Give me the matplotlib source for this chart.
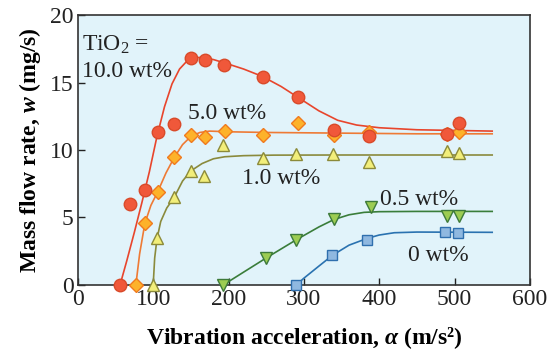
import matplotlib
matplotlib.use("Agg")
import matplotlib.pyplot as plt

plt.rcParams["font.family"] = ["Liberation Serif", "DejaVu Serif"]
plt.rcParams["mathtext.fontset"] = "custom"
plt.rcParams["mathtext.rm"] = "Liberation Serif"
plt.rcParams["mathtext.it"] = "Liberation Serif:italic:bold"
plt.rcParams["mathtext.bf"] = "Liberation Serif:bold"

# measured points, TiO2 content in wt%
x_10 = [56, 69, 89, 106, 128, 150, 169, 194, 246, 292, 340, 386, 490, 506]
w_10 = [0, 6.0, 7.0, 11.3, 11.9, 16.8, 16.7, 16.3, 15.4, 13.95, 11.5, 11.05, 11.2, 12.0]

x_5 = [77, 89, 106, 128, 150, 169, 195, 246, 292, 340, 386, 490, 506]
w_5 = [0, 4.57, 6.9, 9.5, 11.1, 11.0, 11.4, 11.1, 12.0, 11.1, 11.35, 11.2, 11.3]

x_1 = [100, 105, 128, 150, 168, 193, 246, 290, 339, 386, 490, 506]
w_1 = [0, 3.45, 6.5, 8.45, 8.1, 10.35, 9.4, 9.7, 9.7, 9.1, 9.95, 9.75]

x_05 = [193, 250, 290, 340, 389, 490, 506]
w_05 = [0, 2.0, 3.33, 4.9, 5.75, 5.1, 5.1]

x_0 = [290, 338, 384, 488, 504]
w_0 = [0, 2.2, 3.33, 3.95, 3.85]

# fitted curves
cx_10 = [56, 65, 75, 85, 95, 105, 115, 125, 135, 145, 155, 165, 180, 195,
         220, 245, 270, 295, 320, 345, 370, 400, 450, 500, 550]
cw_10 = [0, 1.8, 3.9, 6.1, 8.4, 11.0, 13.2, 14.9, 16.0, 16.6, 16.85, 16.85,
         16.7, 16.45, 16.0, 15.45, 14.7, 13.8, 12.9, 12.2, 11.85, 11.65, 11.5,
         11.45, 11.4]

cx_5 = [77, 82, 89, 97, 106, 117, 128, 139, 150, 162, 175, 200, 250, 350,
        450, 550]
cw_5 = [0, 2.3, 4.57, 5.9, 6.9, 8.3, 9.45, 10.4, 11.0, 11.3, 11.4, 11.35,
        11.3, 11.25, 11.2, 11.2]

cx_1 = [100, 102, 105, 110, 118, 128, 139, 150, 165, 180, 195, 220, 260,
        350, 450, 550]
cw_1 = [0, 2.0, 3.4, 4.7, 5.7, 6.5, 7.7, 8.45, 9.0, 9.35, 9.5, 9.58, 9.62,
        9.63, 9.63, 9.63]

cx_05 = [193, 220, 250, 290, 320, 340, 360, 380, 400, 450, 550]
cw_05 = [0, 0.95, 2.0, 3.35, 4.3, 4.85, 5.2, 5.38, 5.43, 5.45, 5.45]

cx_0 = [290, 300, 320, 338, 360, 384, 400, 420, 450, 550]
cw_0 = [0, 0.5, 1.4, 2.2, 2.95, 3.45, 3.7, 3.87, 3.92, 3.9]

series = [
    (x_0, w_0, cx_0, cw_0, "s", 7, "#8fb8e0", "#2f6fae", "#2a72b0"),
    (x_05, w_05, cx_05, cw_05, "v", 8.5, "#9ccc52", "#3d7a3a", "#3a7d3a"),
    (x_1, w_1, cx_1, cw_1, "^", 8.5, "#f2ee7a", "#8b8a3a", "#8a8a3c"),
    (x_5, w_5, cx_5, cw_5, "D", 7, "#fdb22a", "#f07a1e", "#ee7a35"),
    (x_10, w_10, cx_10, cw_10, "o", 9, "#f0583a", "#d94a2a", "#e8452c"),
]

fig = plt.figure(figsize=(5.56, 3.58), dpi=100)
ax = fig.add_axes([0.140, 0.204, 0.813, 0.754])
ax.set_facecolor("#e1f3fa")

for xs, ws, cx, cw, mk, ms, fc, ec, lc in series:
    ax.plot(cx, cw, color=lc, lw=1.2, zorder=2)
    ax.plot(xs, ws, linestyle="none", marker=mk, ms=ms, mfc=fc, mec=ec,
            mew=1.0, zorder=3, clip_on=False)

ax.set_xlim(0, 600)
ax.set_ylim(0, 20)
ax.set_xticks([0, 100, 200, 300, 400, 500, 600])
ax.set_yticks([0, 5, 10, 15, 20])
ax.tick_params(direction="in", length=5, width=1, labelsize=17, pad=3,
               colors="#222222")
for sp in ax.spines.values():
    sp.set_color("#333333")
    sp.set_linewidth(1.2)

ax.set_xlabel(r"Vibration acceleration, $\alpha$ (m/s²)", fontsize=17,
              fontweight="bold", labelpad=11)
ax.set_ylabel(r"Mass flow rate, $w$ (mg/s)", fontsize=17, fontweight="bold",
              labelpad=5)

txt = dict(fontsize=17, color="#222222", zorder=4)
ax.text(5, 17.8, r"TiO$_2$ =", va="center", ha="left", **txt)
ax.text(5, 15.8, "10.0 wt%", va="center", ha="left", **txt)
ax.text(146, 12.7, "5.0 wt%", va="center", ha="left", **txt)
ax.text(218, 7.9, "1.0 wt%", va="center", ha="left", **txt)
ax.text(401, 6.3, "0.5 wt%", va="center", ha="left", **txt)
ax.text(438, 2.2, "0 wt%", va="center", ha="left", **txt)

fig.savefig("out.png", dpi=100)
